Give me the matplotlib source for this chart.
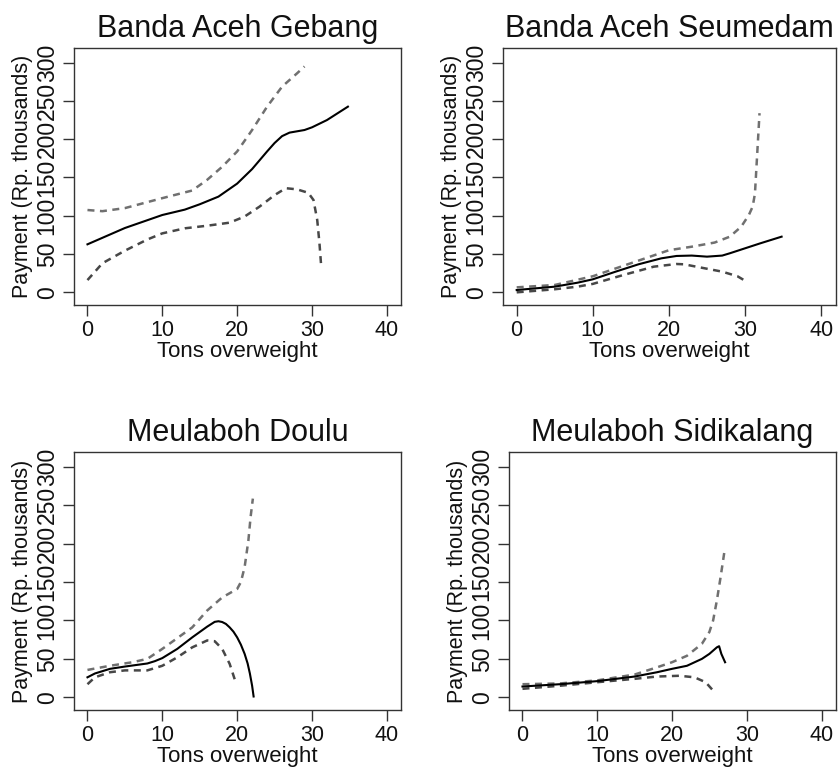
import matplotlib
matplotlib.use("Agg")
import matplotlib.pyplot as plt

plt.rcParams["font.family"] = ["Liberation Sans", "DejaVu Sans"]

titles = ["Banda Aceh Gebang", "Banda Aceh Seumedam", "Meulaboh Doulu", "Meulaboh Sidikalang"]
x_ticks = [0, 10, 20, 30, 40]
y_ticks = [0, 50, 100, 150, 200, 250, 300]

# Banda Aceh Gebang
gebang_fit_x = [0, 5, 10, 13, 15, 17.5, 20, 22, 24, 25, 26, 27, 29, 30, 32, 34.8]
gebang_fit_y = [62.7, 84, 101, 108, 115, 125, 142, 161, 184, 195, 204, 208.6, 212, 215.5, 225, 242.5]
gebang_hi_x = [0, 2, 5, 10, 14, 16, 18, 20, 22, 24, 26, 28, 29]
gebang_hi_y = [107.5, 106, 110, 123, 133, 147, 164, 184, 212, 242.5, 268.6, 286, 295]
gebang_lo_x = [0, 2, 5, 8, 10, 13, 16, 19, 21, 23, 25, 26.5, 28, 29.5, 30.2, 30.7, 31, 31.2]
gebang_lo_y = [16, 38, 54.4, 69, 77, 83.6, 87, 91, 99, 112, 127, 136, 134.5, 130, 120.6, 94.5, 64, 38]

# Banda Aceh Seumedam
seumedam_fit_x = [0, 5, 8, 10, 13, 16, 19, 21, 23, 25, 27, 28, 30, 32, 34.8]
seumedam_fit_y = [3, 7.4, 12.6, 17, 27, 36.6, 44.4, 47.5, 48, 46.6, 48, 51, 57.5, 64, 72.7]
seumedam_hi_x = [0, 5, 10, 15, 20, 23, 26, 28, 29.5, 30.5, 31, 31.3, 31.5, 31.7, 31.9]
seumedam_hi_y = [6.5, 9.6, 21, 38, 55, 59.6, 65, 72.7, 85.8, 101, 112, 129, 164, 199, 234]
seumedam_lo_x = [0, 5, 8, 10, 14, 18, 21, 22, 24, 27, 29, 30.2]
seumedam_lo_y = [0, 4, 7.4, 11, 22.6, 33.5, 37, 36.6, 32.7, 27, 21, 14]

# Meulaboh Doulu
doulu_fit_x = [0, 1, 3, 5, 8, 9, 10, 12, 14, 16, 17, 17.5, 18, 18.5, 19, 19.5, 20, 20.5, 21, 21.4, 21.7, 22, 22.2]
doulu_fit_y = [26, 31, 37, 40, 44, 47, 51, 63, 78, 92, 98.2, 99, 98, 95.5, 91, 85.5, 78, 68.5, 56.5, 44, 31, 15, 1]
doulu_hi_x = [0, 3, 6, 8, 10, 12, 14, 16, 18, 20, 20.5, 21, 21.5, 21.8, 22.1]
doulu_hi_y = [35.6, 41, 45.6, 50, 63, 77, 91, 113, 130, 141, 150, 169.6, 204, 235, 258.7]
doulu_lo_x = [0, 1, 3, 5, 8, 10, 12, 14, 16, 17, 18, 19, 19.8]
doulu_lo_y = [17, 26, 32.6, 35, 35, 41, 52, 65, 74, 73, 63, 43.5, 19.6]

# Meulaboh Sidikalang
sidi_fit_x = [0, 5, 10, 15, 18, 20, 22, 24, 25, 26, 26.3, 26.6, 27.1]
sidi_fit_y = [14, 17, 21, 27, 32.6, 37, 41, 50, 56.5, 65, 66.5, 56.5, 45.6]
sidi_hi_x = [0, 5, 10, 15, 18, 20, 22, 24, 25, 25.5, 26, 26.5, 27]
sidi_hi_y = [17, 18, 22, 29.6, 39, 45.6, 54, 69.6, 85, 100, 126, 156.5, 189]
sidi_lo_x = [0, 5, 10, 15, 18, 21, 23, 24.5, 25.5]
sidi_lo_y = [11, 15, 19.6, 24, 27, 28, 26, 19.6, 8.7]

panels = [
    (gebang_fit_x, gebang_fit_y, gebang_hi_x, gebang_hi_y, gebang_lo_x, gebang_lo_y),
    (seumedam_fit_x, seumedam_fit_y, seumedam_hi_x, seumedam_hi_y, seumedam_lo_x, seumedam_lo_y),
    (doulu_fit_x, doulu_fit_y, doulu_hi_x, doulu_hi_y, doulu_lo_x, doulu_lo_y),
    (sidi_fit_x, sidi_fit_y, sidi_hi_x, sidi_hi_y, sidi_lo_x, sidi_lo_y),
]

# axes boxes in figure fractions [left, bottom, width, height]
boxes = [
    [0.0882, 0.6023, 0.3898, 0.335],
    [0.5995, 0.6023, 0.3965, 0.335],
    [0.0882, 0.0743, 0.3898, 0.336],
    [0.6067, 0.0743, 0.3894, 0.336],
]

fig = plt.figure(figsize=(8.39, 7.67), dpi=100)

for title, data, box in zip(titles, panels, boxes):
    fx, fy, hx, hy, lx, ly = data
    ax = fig.add_axes(box)
    ax.plot(hx, hy, color="#707070", linewidth=1.8, linestyle=(0, (2.8, 2.2)))
    ax.plot(lx, ly, color="#474747", linewidth=1.8, linestyle=(0, (2.8, 2.2)))
    ax.plot(fx, fy, color="black", linewidth=1.5)

    ax.set_xlim(-1.8, 41.9)
    ax.set_ylim(-16.6, 319)
    ax.set_xticks(x_ticks)
    ax.set_yticks(y_ticks)
    ax.tick_params(axis="x", labelsize=15.5, length=8, width=1, pad=3,
                   color="#333333", labelcolor="#111111")
    ax.tick_params(axis="y", labelsize=16.5, length=8, width=1, pad=3,
                   color="#333333", labelcolor="#111111")
    for lab in ax.get_yticklabels():
        lab.set_rotation(90)
        lab.set_va("center")
    for s in ax.spines.values():
        s.set_color("#333333")
        s.set_linewidth(1)

    ax.set_title(title, fontsize=22, pad=8, color="#111111")
    ax.set_xlabel("Tons overweight", fontsize=16, labelpad=0, color="#111111")
    ax.set_ylabel("Payment (Rp. thousands)", fontsize=15.5, labelpad=2, color="#111111")

fig.savefig("out.png", dpi=100)
